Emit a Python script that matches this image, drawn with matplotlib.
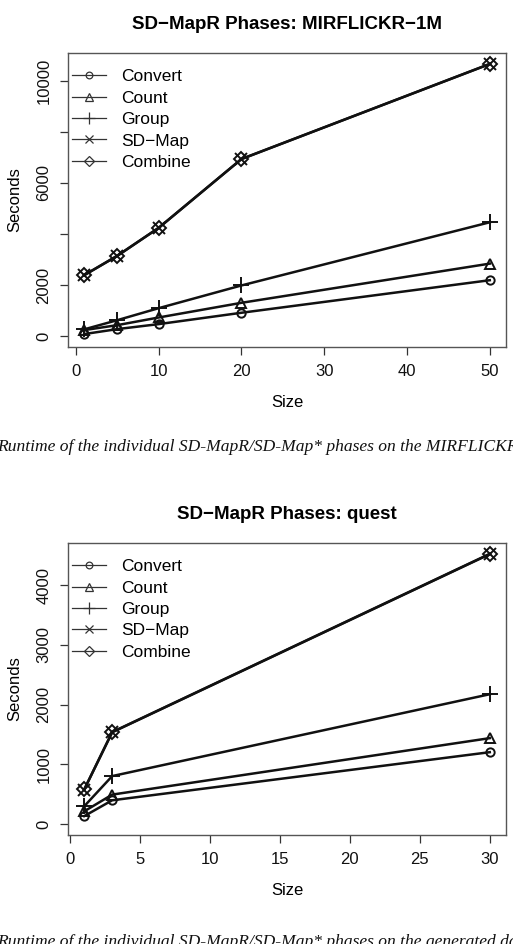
import matplotlib
matplotlib.use("Agg")
import matplotlib.pyplot as plt
from matplotlib.lines import Line2D

plt.rcParams["font.family"] = ["Liberation Sans", "DejaVu Sans"]

# MIRFLICKR-1M runtimes (seconds)
sizes_mir = [1, 5, 10, 20, 50]
convert_mir = [80, 275, 470, 915, 2190]
count_mir = [235, 430, 730, 1305, 2840]
group_mir = [265, 625, 1095, 1985, 4460]
sdmap_mir = [2385, 3145, 4240, 6935, 10660]
combine_mir = [2390, 3150, 4245, 6940, 10665]

# quest runtimes (seconds)
sizes_quest = [1, 3, 30]
convert_quest = [135, 400, 1205]
count_quest = [215, 495, 1440]
group_quest = [300, 805, 2175]
sdmap_quest = [578, 1538, 4520]
combine_quest = [582, 1542, 4525]

series_names = ["Convert", "Count", "Group", "SD\u2212Map", "Combine"]
markers = ["o", "^", "+", "x", "D"]
msizes = [6, 7, 11, 8, 7]

W, H = 513, 944


def px_axes(fig, left, top, right, bottom):
    return fig.add_axes([left / W, 1 - bottom / H, (right - left) / W, (bottom - top) / H])


def r_style(ax, xs, ys_all, xticks, yticks, ylabels, title):
    xmin, xmax = min(xs), max(xs)
    dx = 0.04 * (xmax - xmin)
    ax.set_xlim(xmin - dx, xmax + dx)
    ymax = max(max(s) for s in ys_all)
    dy = 0.04 * ymax
    ax.set_ylim(-dy, ymax + dy)
    ax.set_xticks(xticks)
    ax.set_xticklabels([str(t) for t in xticks])
    ax.set_yticks(yticks)
    ax.set_yticklabels(ylabels, rotation=90, va="center")
    ax.tick_params(axis="both", direction="out", length=6, width=0.9,
                   colors="#333333", labelsize=12, labelcolor="#111111")
    ax.tick_params(axis="x", pad=6)
    ax.tick_params(axis="y", pad=6)
    for sp in ax.spines.values():
        sp.set_color("#555555")
        sp.set_linewidth(1.0)
    ax.set_xlabel("Size", fontsize=12, labelpad=12)
    ax.set_ylabel("Seconds", fontsize=12, labelpad=10)
    ax.set_title(title, fontsize=13.5, fontweight="bold", pad=17)


def draw(ax, xs, data):
    for vals, m, ms in zip(data, markers, msizes):
        ax.plot(xs, vals, color="#111111", lw=1.8, marker=m, markersize=ms,
                markerfacecolor="none", markeredgecolor="#111111", markeredgewidth=1.4)
    handles = [Line2D([], [], color="#333333", lw=0.9, marker=m, markersize=ms * 0.8,
                      markerfacecolor="none", markeredgecolor="#333333", markeredgewidth=0.9)
               for m, ms in zip(markers, msizes)]
    ax.legend(handles, series_names, loc="upper left", frameon=False, fontsize=12.5,
              bbox_to_anchor=(0.01, 0.945), borderaxespad=0, borderpad=0,
              handlelength=1.95, handletextpad=0.85, labelspacing=0.36)


fig = plt.figure(figsize=(W / 100, H / 100), dpi=100)

ax1 = px_axes(fig, 68, 53, 506, 347)
data_mir = [convert_mir, count_mir, group_mir, sdmap_mir, combine_mir]
draw(ax1, sizes_mir, data_mir)
r_style(ax1, sizes_mir, data_mir, [0, 10, 20, 30, 40, 50],
        [0, 2000, 4000, 6000, 8000, 10000], ["0", "2000", "", "6000", "", "10000"],
        "SD\u2212MapR Phases: MIRFLICKR\u22121M")

ax2 = px_axes(fig, 68, 543, 506, 835)
data_quest = [convert_quest, count_quest, group_quest, sdmap_quest, combine_quest]
draw(ax2, sizes_quest, data_quest)
r_style(ax2, sizes_quest, data_quest, [0, 5, 10, 15, 20, 25, 30],
        [0, 1000, 2000, 3000, 4000], ["0", "1000", "2000", "3000", "4000"],
        "SD\u2212MapR Phases: quest")

cap_font = dict(family="Liberation Serif", style="italic", fontsize=12.6, color="#111111")
fig.text(-3 / W, 1 - 447 / H, "Runtime of the individual SD-MapR/SD-Map* phases on the MIRFLICKR-1M dataset.",
         ha="left", va="center", **cap_font)
fig.text(-3 / W, 1 - 942 / H, "Runtime of the individual SD-MapR/SD-Map* phases on the generated dataset.",
         ha="left", va="center", **cap_font)

fig.savefig("out.png", dpi=100)
